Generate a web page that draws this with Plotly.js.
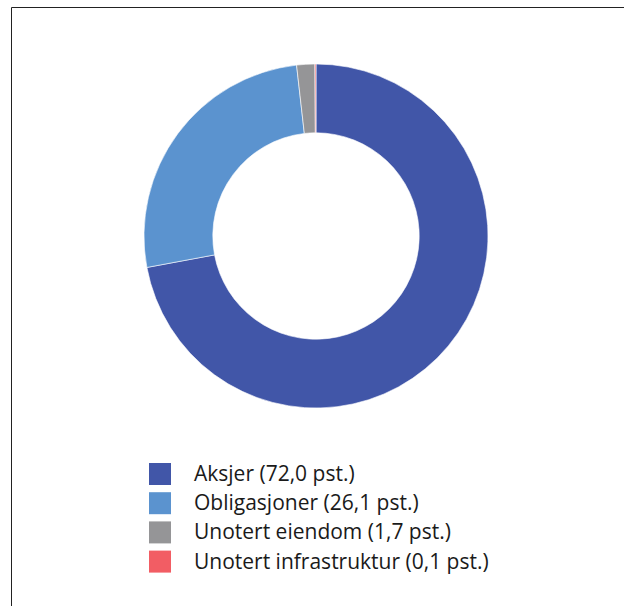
<!DOCTYPE html>
<html>
<head>
<meta charset="utf-8">
<script src="https://cdn.plot.ly/plotly-3.0.1.min.js"></script>
<style>
html,body{margin:0;padding:0;background:#fff;}
#chart{width:624px;height:606px;}
</style>
</head>
<body>
<div id="chart"></div>
<script>
const categories = ["Aksjer", "Obligasjoner", "Unotert eiendom", "Unotert infrastruktur"];
const values = [72.0, 26.1, 1.7, 0.1];
const labelsText = ["Aksjer (72,0 pst.)", "Obligasjoner (26,1 pst.)", "Unotert eiendom (1,7 pst.)", "Unotert infrastruktur (0,1 pst.)"];
const colors = ["#4156a8", "#5b93cf", "#959597", "#f25d64"];

const W = 624, H = 606;
const px = x => x / W;
const py = y => 1 - y / H;

const shapes = [
  {type: "line", xref: "paper", yref: "paper", x0: px(11.5), x1: px(700), y0: py(7.5), y1: py(7.5), line: {color: "#222", width: 1}},
  {type: "line", xref: "paper", yref: "paper", x0: px(11.5), x1: px(11.5), y0: py(7.5), y1: py(700), line: {color: "#222", width: 1}}
];
const annotations = [];
const rowTop = 463, rowStep = 29.2, sq = 22;
categories.forEach((c, i) => {
  const top = rowTop + i * rowStep;
  shapes.push({type: "rect", xref: "paper", yref: "paper", x0: px(149), x1: px(149 + sq), y0: py(top), y1: py(top + sq), fillcolor: colors[i], line: {width: 0}});
  annotations.push({xref: "paper", yref: "paper", x: px(192), y: py(top + sq / 2 - 1), xanchor: "left", yanchor: "middle", showarrow: false, text: labelsText[i], font: {family: "Open Sans", size: 21, color: "#1a1a1a"}});
});

const trace = {
  type: "pie",
  labels: categories,
  values: values,
  hole: 0.6,
  sort: false,
  direction: "clockwise",
  rotation: 0,
  textinfo: "none",
  hoverinfo: "label+percent",
  marker: {colors: colors, line: {color: "#ffffff", width: 0.6}},
  domain: {x: [px(144), px(488)], y: [py(408), py(64)]},
  showlegend: false
};

Plotly.newPlot("chart", [trace], {
  width: W, height: H,
  margin: {l: 0, r: 0, t: 0, b: 0},
  paper_bgcolor: "#fff",
  showlegend: false,
  shapes: shapes,
  annotations: annotations
}, {staticPlot: true});
</script>
</body>
</html>
